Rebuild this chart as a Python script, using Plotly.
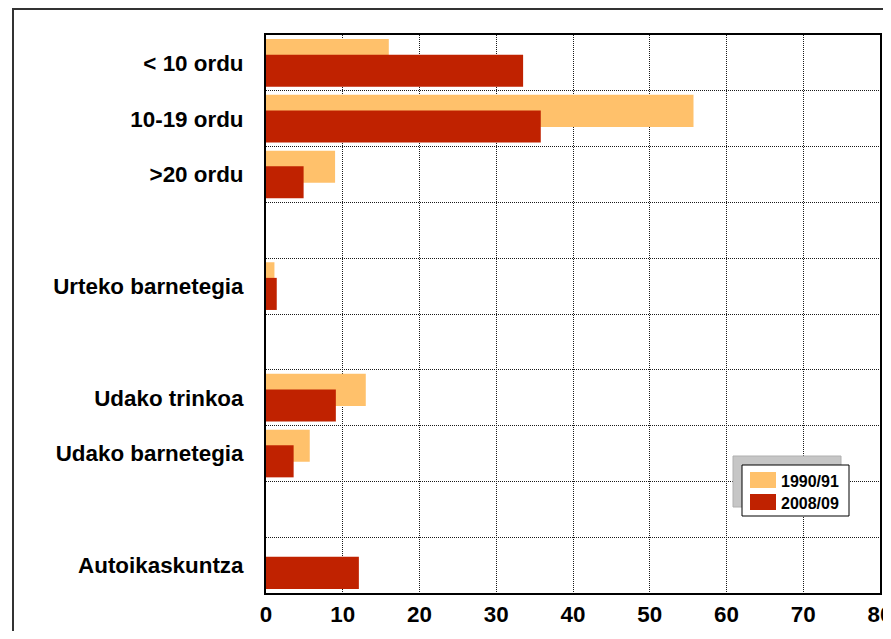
import plotly.graph_objects as go

# Categories top to bottom; blank names keep the empty rows of the original
categories = ["< 10 ordu", "10-19 ordu", ">20 ordu", " ",
              "Urteko barnetegia", "  ",
              "Udako trinkoa", "Udako barnetegia", "   ",
              "Autoikaskuntza"]
values_1990 = [16.0, 55.7, 9.0, None, 1.1, None, 13.0, 5.7, None, None]
values_2008 = [33.5, 35.8, 4.9, None, 1.4, None, 9.1, 3.6, None, 12.1]
series_names = ["1990/91", "2008/09"]
x_ticks = [0, 10, 20, 30, 40, 50, 60, 70, 80]

LIGHT = "#FFC16B"
DARK = "#C02200"
FONT = "Liberation Sans, Arial, sans-serif"

# figure size (page has an 8px body margin) and plot margins
W, H = 875, 623
ML, MR, MT, MB = 258, 3, 27, 38
PW, PH = W - ML - MR, H - MT - MB


def px(x):
    # figure pixel x -> paper x
    return (x - ML) / PW


def py(y):
    # figure pixel y (from top) -> paper y
    return (H - MB - y) / PH


fig = go.Figure()
fig.add_trace(go.Bar(
    y=categories, x=values_1990, name=series_names[0], orientation="h",
    marker=dict(color=LIGHT, line=dict(width=0)),
    width=0.575, offset=-0.4275, showlegend=False,
))
fig.add_trace(go.Bar(
    y=categories, x=values_2008, name=series_names[1], orientation="h",
    marker=dict(color=DARK, line=dict(width=0)),
    width=0.575, offset=-0.1475, showlegend=False,
))

fig.update_layout(
    width=W, height=H,
    margin=dict(l=ML, r=MR, t=MT, b=MB),
    barmode="overlay",
    plot_bgcolor="white", paper_bgcolor="white",
    font=dict(family=FONT, size=22.4, color="black", weight="bold"),
    showlegend=False,
)

grid = dict(showgrid=True, gridcolor="#1a1a1a", griddash="1px,1px", gridwidth=1)

fig.update_xaxes(
    range=[0, 80], tickvals=x_ticks, ticks="", automargin=False,
    ticklabeloverflow="allow",
    showline=True, linecolor="black", linewidth=2, mirror=True,
    zeroline=False, **grid,
)
fig.update_yaxes(
    categoryorder="array", categoryarray=categories,
    range=[len(categories) - 0.5, -0.5], automargin=False,
    tickson="boundaries", ticks="", ticklabelstandoff=16,
    showline=True, linecolor="black", linewidth=2, mirror=True,
    **grid,
)

# outer chart frame
fig.add_shape(type="rect", xref="paper", yref="paper",
              x0=px(5), x1=px(W + 20), y0=py(H + 20), y1=py(1),
              line=dict(color="#333333", width=2), fillcolor="rgba(0,0,0,0)",
              layer="below")

# legend drawn by hand: grey shadow, white box, swatches, labels
fig.add_shape(type="rect", xref="paper", yref="paper",
              x0=px(725), x1=px(833), y0=py(499), y1=py(448),
              line=dict(color="#b0b0b0", width=1), fillcolor="#c6c6c6",
              layer="above")
fig.add_shape(type="rect", xref="paper", yref="paper",
              x0=px(734), x1=px(841), y0=py(508), y1=py(457),
              line=dict(color="black", width=1), fillcolor="white",
              layer="above")
for i, (name, color) in enumerate(zip(series_names, [LIGHT, DARK])):
    top = 464 + i * 22
    fig.add_shape(type="rect", xref="paper", yref="paper",
                  x0=px(742), x1=px(768), y0=py(top + 16), y1=py(top),
                  line=dict(width=0), fillcolor=color, layer="above")
    fig.add_annotation(x=px(771), y=py(top + 9), xref="paper", yref="paper",
                       text=name, showarrow=False, xanchor="left",
                       yanchor="middle",
                       font=dict(size=16, family=FONT, weight="bold"))

fig.write_html("out.html")
